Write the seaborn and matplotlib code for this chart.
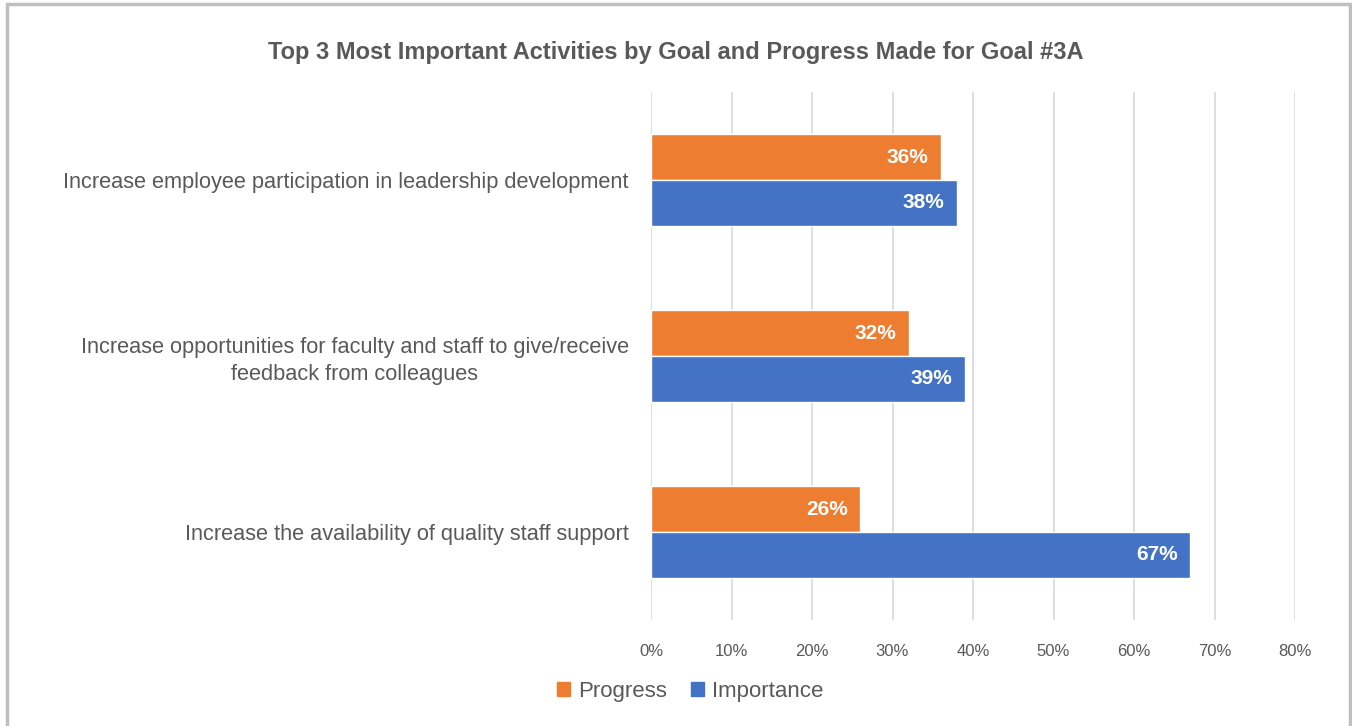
import matplotlib
matplotlib.use("Agg")
import matplotlib.pyplot as plt
from matplotlib.patches import Rectangle
import seaborn as sns
import pandas as pd

# Data
activities = [
    "Increase employee participation in leadership development",
    "Increase opportunities for faculty and staff to give/receive\nfeedback from colleagues",
    "Increase the availability of quality staff support",
]
progress = [36, 32, 26]
importance = [38, 39, 67]
series_names = ["Progress", "Importance"]
tick_values = [0, 10, 20, 30, 40, 50, 60, 70, 80]
title = "Top 3 Most Important Activities by Goal and Progress Made for Goal #3A"

df = pd.DataFrame({
    "Activity": activities * 2,
    "Series": [series_names[0]] * len(activities) + [series_names[1]] * len(activities),
    "Value": progress + importance,
})

sns.set_theme(style="white")
plt.rcParams["font.family"] = ["Liberation Sans", "DejaVu Sans"]

TEXT = "#595959"
palette = {"Progress": "#ED7D31", "Importance": "#4472C4"}

fig = plt.figure(figsize=(13.52, 7.26), dpi=100)
ax = fig.add_axes([651 / 1352, 1 - 620 / 726, (1295 - 651) / 1352, (620 - 92) / 726])

sns.barplot(
    data=df, y="Activity", x="Value", hue="Series", order=activities,
    hue_order=series_names, palette=palette, orient="h", width=0.52,
    saturation=1, ax=ax, legend=True,
)

ax.set_xlim(0, 80)
ax.set_xticks(tick_values)
ax.set_xticklabels([f"{t}%" for t in tick_values], fontsize=12, color=TEXT)
ax.tick_params(axis="x", length=0, pad=17)
ax.tick_params(axis="y", length=0, pad=16)
for lbl in ax.get_yticklabels():
    lbl.set_fontsize(15.7)
    lbl.set_color(TEXT)
    lbl.set_horizontalalignment("right")
    lbl.set_multialignment("center")
    lbl.set_linespacing(1.35)
ax.set_xlabel("")
ax.set_ylabel("")
ax.grid(axis="x", color="#D9D9D9", linewidth=1.2)
ax.set_axisbelow(True)
for s in ax.spines.values():
    s.set_visible(False)

# Value labels inside bar ends
for container, vals in zip(ax.containers, [progress, importance]):
    for bar, v in zip(container, vals):
        ax.annotate(f"{v}%", xy=(v, bar.get_y() + bar.get_height() / 2),
                    xytext=(-9, 0), textcoords="offset points",
                    ha="right", va="center", color="white",
                    fontsize=15, fontweight="bold")

ax.legend_.remove()
handles = [Rectangle((0, 0), 1, 1, color=palette[n]) for n in series_names]
fig.legend(handles, series_names, loc="center", bbox_to_anchor=(690 / 1352, 1 - 691 / 726),
           ncol=2, frameon=False, fontsize=16, labelcolor=TEXT,
           handlelength=0.6, handleheight=0.6, handletextpad=0.35,
           columnspacing=1.1)

fig.text(0.5, 1 - 52 / 726, title, ha="center", va="center",
         fontsize=17, fontweight="bold", color=TEXT)

# Chart border
fig.patches.append(Rectangle((7 / 1352, -0.01), (1350 - 7) / 1352, 1 - 4 / 726 + 0.01,
                             transform=fig.transFigure, fill=False,
                             edgecolor="#BFBFBF", linewidth=2.5))

fig.savefig("out.png", dpi=100)
